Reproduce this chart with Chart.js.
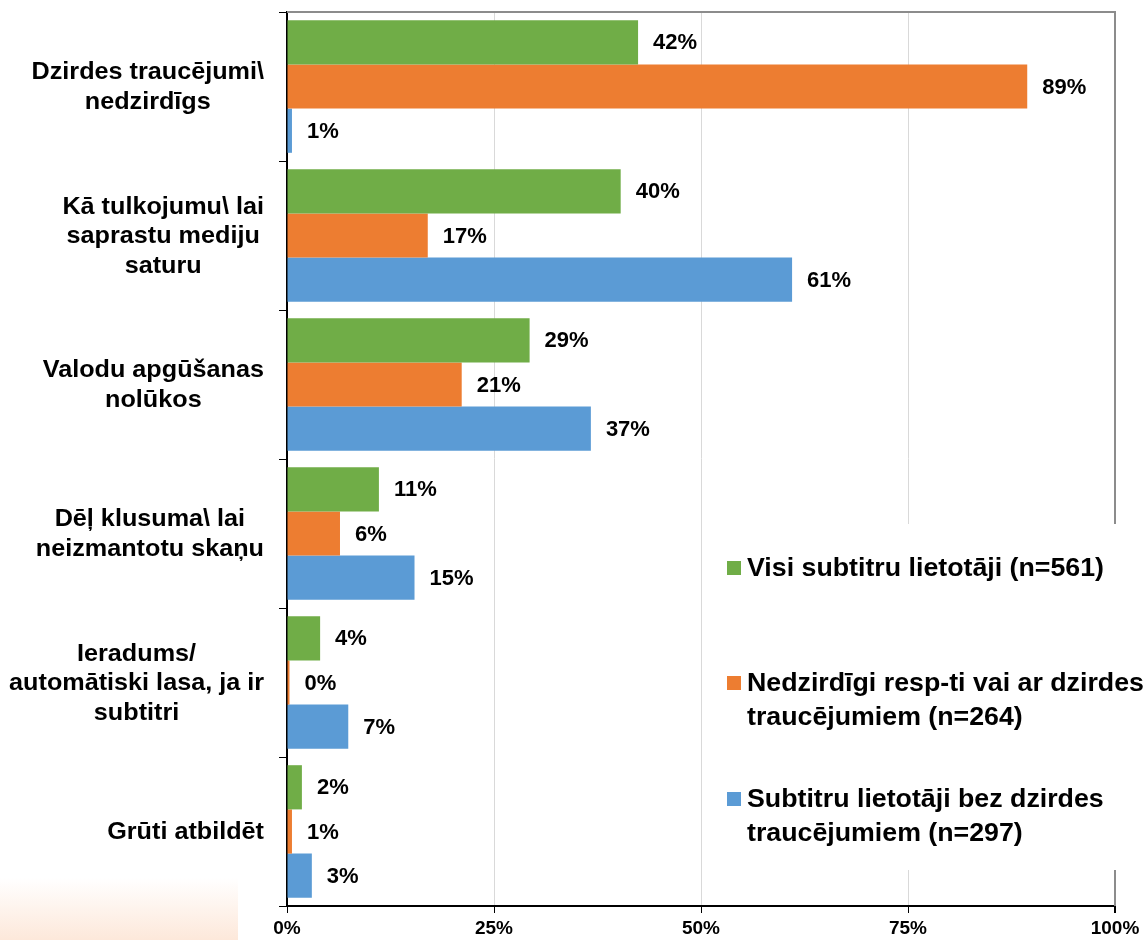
<!DOCTYPE html>
<html>
<head>
<meta charset="utf-8">
<script src="https://cdn.jsdelivr.net/npm/chart.js@4"></script>
<style>
  html, body { margin: 0; padding: 0; background: #fff; }
  #wrap { position: relative; width: 1147px; height: 940px; }
  #fade {
    position: absolute; left: 0; top: 878px; width: 238px; height: 62px;
    background: linear-gradient(to bottom, rgba(253,236,224,0) 0%, rgba(253,232,218,1) 100%);
  }
  canvas { position: absolute; left: 0; top: 0; }
</style>
</head>
<body>
<div id="wrap">
  <div id="fade"></div>
  <canvas id="chart" width="1147" height="940"></canvas>
</div>
<script>
// horizontal grouped bars, three respondent groups per reason

const categories = [
  ["Dzirdes traucējumi\\", "nedzirdīgs"],
  ["Kā tulkojumu\\ lai", "saprastu mediju", "saturu"],
  ["Valodu apgūšanas", "nolūkos"],
  ["Dēļ klusuma\\ lai", "neizmantotu skaņu"],
  ["Ieradums/", "automātiski lasa, ja ir", "subtitri"],
  ["Grūti atbildēt"],
];

const seriesNames = [
  "Visi subtitru lietotāji (n=561)",
  "Nedzirdīgi resp-ti vai ar dzirdes traucējumiem (n=264)",
  "Subtitru lietotāji bez dzirdes traucējumiem (n=297)",
];
// legend text as it wraps in the picture
const legendLines = [
  ["Visi subtitru lietotāji (n=561)"],
  ["Nedzirdīgi resp-ti vai ar dzirdes", "traucējumiem (n=264)"],
  ["Subtitru lietotāji bez dzirdes", "traucējumiem (n=297)"],
];

const allUsers = [42.4, 40.3, 29.3, 11.1, 4.0, 1.8];
const deafUsers = [89.4, 17.0, 21.1, 6.4, 0.3, 0.6];
const hearingUsers = [0.6, 61.0, 36.7, 15.4, 7.4, 3.0];

const xTicks = [0, 25, 50, 75, 100];

const colors = ["#70AD47", "#ED7D31", "#5B9BD5"];
const FONT = "'Liberation Sans', Arial, sans-serif";

// the source text is a bit wider than Liberation Sans, so stretch it
function wideText(c, text, x, y, sx) {
  c.save();
  c.translate(x, y);
  c.scale(sx, 1);
  c.fillText(text, 0, 0);
  c.restore();
}

const barLabels = {
  id: "barLabels",
  afterDatasetsDraw(chart) {
    const c = chart.ctx;
    c.save();
    c.font = "bold 22px " + FONT;
    c.fillStyle = "#000";
    c.textBaseline = "middle";
    c.textAlign = "left";
    chart.data.datasets.forEach((ds, i) => {
      chart.getDatasetMeta(i).data.forEach((bar, j) => {
        c.fillText(Math.round(ds.data[j]) + "%", bar.x + 15, bar.y + 1);
      });
    });
    c.restore();
  },
};

const frameAndLegend = {
  id: "frameAndLegend",
  beforeDatasetsDraw(chart) {
    const a = chart.chartArea;
    const c = chart.ctx;
    c.save();
    c.strokeStyle = "#8c8c8c";
    c.lineWidth = 2;
    c.beginPath();
    c.moveTo(a.left, a.top);
    c.lineTo(a.right, a.top);
    c.lineTo(a.right, a.bottom);
    c.stroke();
    c.restore();
  },
  afterDraw(chart) {
    const c = chart.ctx;
    c.save();
    // white box that hides the grid behind the legend
    c.fillStyle = "#fff";
    c.fillRect(716, 524, 1147 - 716, 346);

    // category labels: block right-aligned, lines centred in block
    const y = chart.scales.y;
    const sx = 1.05;
    c.font = "bold 24px " + FONT;
    c.fillStyle = "#000";
    c.textBaseline = "middle";
    c.textAlign = "center";
    const lh = 29.5;
    categories.forEach((lines, i) => {
      const w = Math.max(...lines.map((l) => c.measureText(l).width)) * sx;
      const cx = 264 - w / 2;
      const cy = y.getPixelForValue(i);
      lines.forEach((l, k) => {
        wideText(c, l, cx, cy + (k - (lines.length - 1) / 2) * lh + 1, sx);
      });
    });

    // legend
    const tops = [568, 683, 799];
    c.font = "bold 25px " + FONT;
    c.textAlign = "left";
    legendLines.forEach((lines, i) => {
      c.fillStyle = colors[i];
      c.fillRect(727, tops[i] - 7, 14, 14);
      c.fillStyle = "#000";
      lines.forEach((l, k) => wideText(c, l, 747, tops[i] + k * 34 + 1, 1.07));
    });
    c.restore();
  },
};

new Chart(document.getElementById("chart"), {
  type: "bar",
  data: {
    labels: categories,
    datasets: [
      { label: seriesNames[0], data: allUsers, backgroundColor: colors[0] },
      { label: seriesNames[1], data: deafUsers, backgroundColor: colors[1] },
      { label: seriesNames[2], data: hearingUsers, backgroundColor: colors[2] },
    ],
  },
  options: {
    indexAxis: "y",
    responsive: false,
    animation: false,
    layout: { padding: { top: 12, right: 32, left: 0, bottom: 0 } },
    datasets: { bar: { categoryPercentage: 0.89, barPercentage: 1.0 } },
    plugins: { legend: { display: false }, tooltip: { enabled: false } },
    scales: {
      x: {
        min: 0,
        max: 100,
        afterBuildTicks: (s) => { s.ticks = xTicks.map((v) => ({ value: v })); },
        afterFit: (s) => { s.height = 34; },
        border: { color: "#000", width: 2 },
        grid: {
          color: (ctx) => ctx.tick && ctx.tick.value === 100 ? "#8c8c8c"
            : ctx.tick && ctx.tick.value === 0 ? "rgba(0,0,0,0)" : "#d9d9d9",
          lineWidth: (ctx) => ctx.tick && ctx.tick.value === 100 ? 2 : 1,
          tickColor: "#000",
          tickLength: 7,
        },
        ticks: {
          padding: 4,
          color: "#000",
          font: { family: FONT, size: 19, weight: "bold" },
          callback: (v) => v + "%",
        },
      },
      y: {
        afterFit: (s) => { s.width = 287; },
        border: { color: "#000", width: 2 },
        grid: { drawOnChartArea: false, offset: true, tickColor: "#000", tickLength: 8 },
        ticks: { color: "rgba(0,0,0,0)", font: { family: FONT, size: 1 } },
      },
    },
  },
  plugins: [frameAndLegend, barLabels],
});
</script>
</body>
</html>
